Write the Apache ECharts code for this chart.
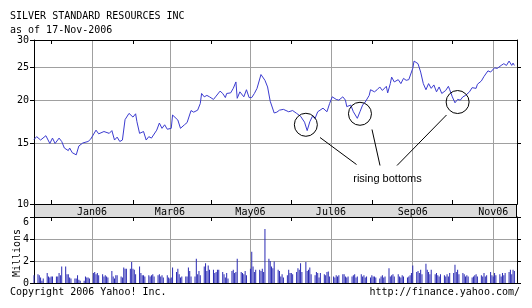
<!DOCTYPE html>
<html><head><meta charset="utf-8">
<script src="https://cdn.jsdelivr.net/npm/echarts@6/dist/echarts.min.js"></script>
<style>html,body{margin:0;padding:0;background:#fff}#c{width:532px;height:308px}</style>
</head><body><div id="c"></div>
<script>
// ---------------- data ----------------
const titleText = 'SILVER STANDARD RESOURCES INC';
const subtitleText = 'as of 17-Nov-2006';
const copyrightText = 'Copyright 2006 Yahoo! Inc.';
const sourceText = 'http://finance.yahoo.com/';
const annotationText = 'rising bottoms';
const volumeAxisName = 'Millions';

const priceDates = [
'2005-11-18','2005-11-20','2005-11-23','2005-11-27','2005-11-30','2005-12-02','2005-12-04','2005-12-07','2005-12-09','2005-12-11','2005-12-14','2005-12-15','2005-12-17','2005-12-20','2005-12-22','2005-12-25','2005-12-29','2005-12-31',
'2006-01-04','2006-01-06','2006-01-10','2006-01-14','2006-01-16','2006-01-18','2006-01-20','2006-01-22','2006-01-24','2006-01-26','2006-01-29','2006-02-01','2006-02-03','2006-02-04','2006-02-06','2006-02-09','2006-02-11','2006-02-13','2006-02-15','2006-02-19','2006-02-21','2006-02-23','2006-02-25','2006-02-27',
'2006-03-02','2006-03-03','2006-03-07','2006-03-09','2006-03-12','2006-03-14','2006-03-17','2006-03-19','2006-03-22','2006-03-24','2006-03-25','2006-03-27','2006-03-29','2006-03-31',
'2006-04-03','2006-04-05','2006-04-08','2006-04-10','2006-04-12','2006-04-13','2006-04-16','2006-04-18','2006-04-20','2006-04-21','2006-04-23','2006-04-26','2006-04-28','2006-04-30',
'2006-05-02','2006-05-04','2006-05-06','2006-05-09','2006-05-12','2006-05-14','2006-05-16','2006-05-19','2006-05-21','2006-05-23','2006-05-26','2006-05-30',
'2006-06-02','2006-06-05','2006-06-08','2006-06-11','2006-06-13','2006-06-15','2006-06-17','2006-06-19','2006-06-21','2006-06-25','2006-06-28','2006-06-30',
'2006-07-02','2006-07-05','2006-07-07','2006-07-10','2006-07-12','2006-07-13','2006-07-16','2006-07-18','2006-07-21','2006-07-23','2006-07-25','2006-07-27','2006-07-30','2006-07-31',
'2006-08-03','2006-08-05','2006-08-07','2006-08-09','2006-08-12','2006-08-13','2006-08-15','2006-08-16','2006-08-18','2006-08-21','2006-08-23','2006-08-25','2006-08-27','2006-08-29',
'2006-09-01','2006-09-02','2006-09-05','2006-09-07','2006-09-09','2006-09-11','2006-09-13','2006-09-15','2006-09-17','2006-09-19','2006-09-21','2006-09-23','2006-09-26','2006-09-28','2006-09-29',
'2006-10-01','2006-10-03','2006-10-05','2006-10-07','2006-10-09','2006-10-11','2006-10-14','2006-10-16','2006-10-19','2006-10-20','2006-10-23','2006-10-25','2006-10-28','2006-10-30',
'2006-11-02','2006-11-04','2006-11-07','2006-11-09','2006-11-11','2006-11-13','2006-11-15','2006-11-16','2006-11-17'
];
const prices = [
15.4,15.7,15.35,15.8,15.0,15.55,15.0,15.55,15.2,14.55,14.3,14.55,14.1,13.9,14.75,15.05,15.2,15.45,
16.4,16.0,16.25,16.05,16.35,15.35,15.65,15.2,15.35,17.6,18.35,17.9,18.3,17.35,16.05,16.25,15.35,15.7,15.55,16.4,17.2,16.6,17.0,16.5,
16.6,18.15,17.55,16.6,17.0,17.25,18.7,18.5,18.75,19.6,20.97,20.5,20.7,20.5,
20.15,20.6,21.3,20.97,20.4,20.97,21.05,21.7,22.65,20.3,21.2,20.5,21.5,20.4,
20.4,20.97,21.7,23.8,22.9,21.9,19.9,18.4,18.5,18.75,18.85,18.55,
18.7,18.35,18.0,17.3,16.35,17.35,18.0,17.75,18.55,19.0,18.55,19.6,
20.5,20.15,20.05,20.5,20.05,19.2,19.4,18.55,17.75,18.55,19.4,19.8,20.7,21.5,
21.2,21.5,21.9,21.4,22.0,21.05,22.4,23.4,22.65,23.0,22.4,23.2,22.9,23.0,
24.8,26.05,25.6,24.2,22.4,21.5,22.4,21.7,22.2,21.2,21.9,20.97,21.4,22.0,21.5,
20.5,19.7,20.15,20.05,20.5,20.7,21.2,21.8,21.7,22.3,22.8,23.5,24.4,24.2,
24.9,24.8,25.3,25.6,25.3,26.05,25.3,25.7,25.3
];

// daily volume (millions), one value per weekday from 2005-11-18 to 2006-11-17
const volumeFirstDay = '2005-11-18';
const volumes = [
0.7,
0.8,0.7,0.5,0.2,0.4, 0.9,0.6,0.5,0.6,0.6, 0.6,0.6,0.9,0.7,1.5, 1.5,0.8,0.8,0.5,0.4,
0.4,0.4,0.7,0.3,0.2, 0.2,0.6,0.5,0.5,0.4, 0.9,1.0,0.8,0.9,0.7, 0.8,0.6,0.7,0.6,0.5,
1.1,0.6,0.4,0.7,0.7, 0.6,0.5,1.4,1.3,1.3, 1.3,1.9,1.3,1.2,0.8, 1.5,0.9,0.7,0.7,0.6,
0.7,0.6,0.7,0.8,0.6, 0.7,0.8,0.6,0.7,0.5, 0.7,0.5,0.4,0.5,1.4, 1.0,1.3,0.8,0.5,0.6,
0.6,0.6,1.4,1.1,0.6, 0.6,2.2,0.8,1.1,0.7, 1.5,1.8,1.1,1.6,1.2, 1.2,0.9,1.0,1.2,1.2,
1.0,0.8,0.5,0.9,0.4, 1.1,1.2,0.9,1.0,2.2, 1.0,0.9,0.8,1.1,0.7, 1.3,2.85,1.5,1.0,1.2,
1.2,1.1,1.3,1.0,4.9, 2.2,2.0,1.5,1.35,1.95, 1.2,1.1,0.6,0.8,0.5, 0.7,1.2,0.9,0.9,0.8,
1.0,1.35,1.2,1.8,1.0, 1.9,1.1,1.2,1.4,0.8, 0.7,1.0,0.9,0.5,0.9, 0.8,0.7,1.0,1.05,0.6,
0.6,0.5,0.7,0.6,0.7, 0.8,0.8,0.6,0.5,0.6, 0.6,0.7,0.8,0.5,0.6, 0.8,0.6,0.7,0.5,0.6,
0.5,0.7,0.6,0.6,0.5, 0.4,0.6,0.7,0.5,0.6, 1.35,0.6,0.7,0.8,0.6, 0.8,0.6,0.5,0.7,0.6,
0.5,0.6,0.7,0.9,1.6, 1.0,1.1,0.9,1.2,0.8, 1.75,1.2,1.0,0.8,1.2, 0.8,0.9,0.7,0.6,0.8,
0.7,0.6,0.8,0.6,0.9, 0.9,1.65,1.0,1.2,0.8, 0.9,0.8,0.6,0.7,0.6, 0.5,0.6,0.7,0.8,0.6,
0.7,0.6,0.9,0.6,0.7, 1.0,0.7,0.6,0.9,0.7, 0.8,0.6,0.9,0.7,0.9, 1.0,1.2,0.8,1.2,1.1
];

const xRange = ['2005-11-18', '2006-11-19'];
const priceTicks = [10, 15, 20, 25, 30];
const priceRightTicks = [15, 20, 25];
const volumeRange = [0, 6];
const volumeStep = 2;
const labelMonths = ['2006-01-01','2006-03-01','2006-05-01','2006-07-01','2006-09-01','2006-11-01'];
const labelTexts = ['Jan06','Mar06','May06','Jul06','Sep06','Nov06'];
const minorMonths = ['2005-12-01','2006-02-01','2006-04-01','2006-06-01','2006-08-01','2006-10-01'];
const bottomDates = ['2006-06-12','2006-07-23','2006-10-05'];
const bottomPrices = [17.0, 18.3, 19.8];

// ---------------- build ----------------
function ts(s) { const p = s.split('-').map(Number); return Date.UTC(p[0], p[1]-1, p[2]); }

const priceData = priceDates.map((d, i) => [ts(d), prices[i]]);
const volumeData = [];
{
  let t = ts(volumeFirstDay);
  let i = 0;
  while (i < volumes.length) {
    const wd = new Date(t).getUTCDay();
    if (wd !== 0 && wd !== 6) { volumeData.push([t, volumes[i]]); i++; }
    t += 86400000;
  }
}
const labelTs = labelMonths.map(ts);
const minorTs = minorMonths.map(ts);
const xMin = ts(xRange[0]), xMax = ts(xRange[1]);

const MONO = 'DejaVu Sans Mono';
const GRID_COLOR = '#a0a0a0';

function dateAxis(extra) {
  return Object.assign({
    type: 'value', min: xMin, max: xMax, scale: true,
    axisLine: { show: true, onZero: false, lineStyle: { color: '#000', width: 1 } },
    axisTick: { show: false },
    axisLabel: { show: false },
    splitLine: { show: false },
    axisPointer: { show: false }
  }, extra);
}
function monthLabel(v) {
  for (let i = 0; i < labelTs.length; i++) { if (Math.abs(labelTs[i] - v) < 86400000) return labelTexts[i]; }
  return '';
}

const chart = echarts.init(document.getElementById('c'), null, { renderer: 'canvas' });
const baseGraphic = [
  { type: 'rect', z: -10, shape: { x: 34.5, y: 204.5, width: 482, height: 13 },
    style: { fill: '#dcdcdc', stroke: '#000', lineWidth: 1 } },
  { type: 'text', left: 10, top: 11, style: { text: titleText, font: '10px "DejaVu Sans Mono"', fill: '#000' } },
  { type: 'text', left: 10, top: 25, style: { text: subtitleText, font: '10px "DejaVu Sans Mono"', fill: '#000' } },
  { type: 'text', left: 10, top: 287, style: { text: copyrightText, font: '10px "DejaVu Sans Mono"', fill: '#000' } },
  { type: 'text', right: 12, top: 287, style: { text: sourceText, font: '10px "DejaVu Sans Mono"', fill: '#000' } },
  { type: 'text', x: 17, y: 253, rotation: Math.PI / 2,
    style: { text: volumeAxisName, font: '10px "DejaVu Sans Mono"', fill: '#000', align: 'center', verticalAlign: 'middle' } }
];
const option = {
  animation: false,
  backgroundColor: '#fff',
  textStyle: { fontFamily: MONO },
  grid: [
    { left: 34, right: 15, top: 40, height: 164, show: false },
    { left: 34, right: 15, top: 217, height: 66, show: false }
  ],
  xAxis: [
    dateAxis({ gridIndex: 0, position: 'bottom',
      axisTick: { show: false, customValues: labelTs },
      axisLabel: { show: true, customValues: labelTs, margin: 3, color: '#000', fontFamily: MONO, fontSize: 10, formatter: monthLabel },
      splitLine: { show: true, lineStyle: { color: GRID_COLOR, width: 1 } } }),
    dateAxis({ gridIndex: 0, position: 'top',
      axisTick: { show: true, inside: true, length: 4, customValues: minorTs, lineStyle: { color: '#000' } } }),
    dateAxis({ gridIndex: 0, position: 'bottom',
      axisTick: { show: true, inside: true, length: 4, customValues: minorTs, lineStyle: { color: '#000' } } }),
    dateAxis({ gridIndex: 1, position: 'bottom',
      axisTick: { show: false, customValues: labelTs },
      splitLine: { show: true, lineStyle: { color: GRID_COLOR, width: 1 } } }),
    dateAxis({ gridIndex: 1, position: 'top',
      axisTick: { show: true, inside: true, length: 4, customValues: minorTs, lineStyle: { color: '#000' } } })
  ],
  yAxis: [
    { gridIndex: 0, type: 'log', min: priceTicks[0], max: priceTicks[priceTicks.length-1], position: 'left',
      axisLine: { show: true, lineStyle: { color: '#000' } },
      axisTick: { show: true, inside: false, length: 4, customValues: priceTicks, lineStyle: { color: '#000' } },
      axisLabel: { customValues: priceTicks, margin: 5, color: '#000', fontFamily: MONO, fontSize: 10,
        formatter: function (v) { return String(Math.round(v)); } },
      splitLine: { show: true, lineStyle: { color: GRID_COLOR, width: 1 } } },
    { gridIndex: 0, type: 'log', min: priceTicks[0], max: priceTicks[priceTicks.length-1], position: 'right',
      axisLine: { show: true, lineStyle: { color: '#000' } },
      axisTick: { show: true, inside: false, length: 4, customValues: priceRightTicks, lineStyle: { color: '#000' } },
      axisLabel: { show: false }, splitLine: { show: false } },
    { gridIndex: 1, type: 'value', min: volumeRange[0], max: volumeRange[1], interval: volumeStep, position: 'left',
      axisLine: { show: true, lineStyle: { color: '#000' } },
      axisTick: { show: true, inside: false, length: 4, lineStyle: { color: '#000' } },
      axisLabel: { margin: 5, color: '#000', fontFamily: MONO, fontSize: 10, verticalAlignMaxLabel: 'top' },
      splitLine: { show: true, lineStyle: { color: GRID_COLOR, width: 1 } } },
    { gridIndex: 1, type: 'value', min: volumeRange[0], max: volumeRange[1], interval: volumeStep, position: 'right',
      axisLine: { show: true, lineStyle: { color: '#000' } },
      axisTick: { show: true, inside: false, length: 4, lineStyle: { color: '#000' } },
      axisLabel: { show: false }, splitLine: { show: false } }
  ],
  series: [
    { type: 'line', xAxisIndex: 0, yAxisIndex: 0, data: priceData, showSymbol: false, symbol: 'none',
      lineStyle: { color: '#3b3bd0', width: 1 }, z: 5, silent: true },
    { type: 'bar', xAxisIndex: 3, yAxisIndex: 2, data: volumeData, barWidth: 1,
      itemStyle: { color: '#2a2ab4' }, silent: true }
  ],
  graphic: baseGraphic
};
chart.setOption(option);

// annotation: circles around the bottoms (anchored in data space), pointer lines and label
const ann = [];
bottomDates.forEach((d, i) => {
  const p = chart.convertToPixel({ xAxisIndex: 0, yAxisIndex: 0 }, [ts(d), bottomPrices[i]]);
  if (p) ann.push({ type: 'circle', z: 100, shape: { cx: p[0], cy: p[1], r: 11.5 },
    style: { fill: 'none', stroke: '#000', lineWidth: 1 } });
});
const pointerLines = [[320, 137.5, 356.5, 164.5], [372, 129.5, 380, 165.5], [446.5, 115, 397, 165.5]];
pointerLines.forEach(l => ann.push({ type: 'line', z: 100, shape: { x1: l[0], y1: l[1], x2: l[2], y2: l[3] },
  style: { stroke: '#000', lineWidth: 1 } }));
ann.push({ type: 'text', z: 100, x: 387.5, y: 178.5,
  style: { text: annotationText, font: '11px "Liberation Sans", Arial, sans-serif', fill: '#000', align: 'center', verticalAlign: 'middle' } });
chart.setOption({ graphic: baseGraphic.concat(ann) });
</script>
</body></html>
